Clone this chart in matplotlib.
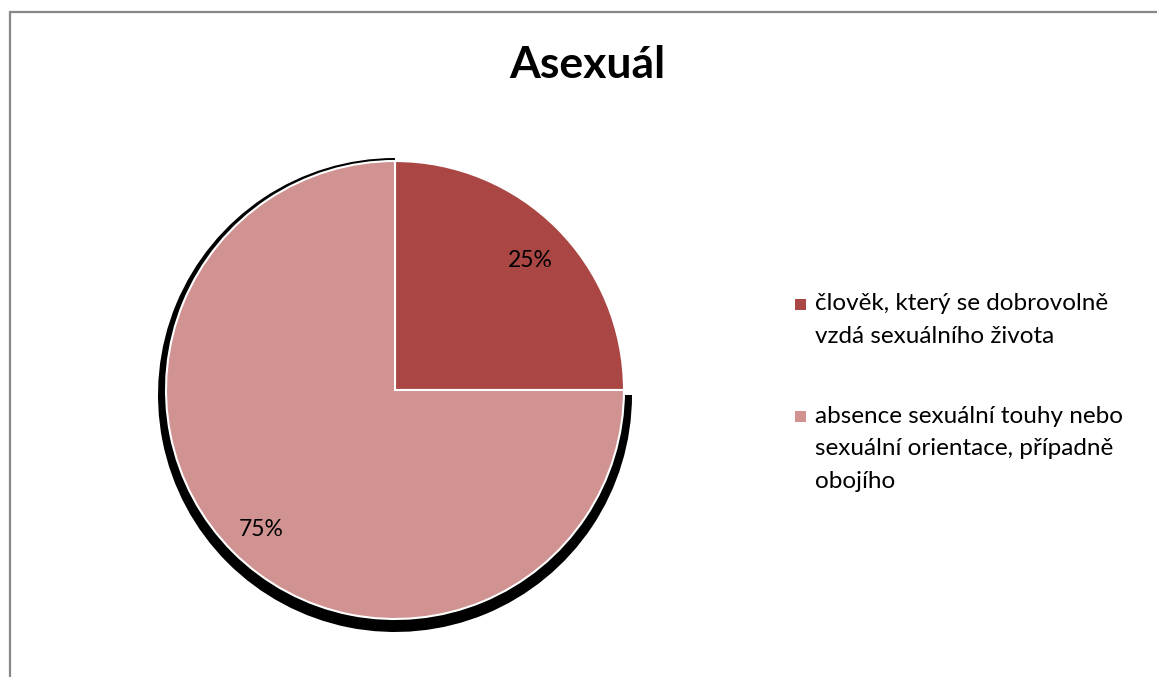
import matplotlib.pyplot as plt
from matplotlib.patches import Wedge, Rectangle

W, H = 1157, 677

title = "Asexuál"
labels = ["člověk, který se dobrovolně\nvzdá sexuálního života",
          "absence sexuální touhy nebo\nsexuální orientace, případně\nobojího"]
shares = [25, 75]
colors = ["#AA4643", "#D19392"]

fig = plt.figure(figsize=(W / 100, H / 100), dpi=100)
ax = fig.add_axes([0, 0, 1, 1])

# pie drawn in pixel-like data coords (y measured from the bottom)
wedges, _, pcts = ax.pie(shares, colors=colors, startangle=90, counterclock=False,
                         center=(395, H - 390), radius=229,
                         autopct="%d%%", pctdistance=0.83,
                         wedgeprops=dict(edgecolor="white", linewidth=1.5),
                         textprops=dict(fontsize=16.5, family="Lato"))
for t in pcts:
    x, y = t.get_position()
    t.set_position((x + 1, y - 5))

# black drop shadow behind the big slice only
big = wedges[1]
shadow = Wedge((big.center[0], big.center[1] - 5), big.r + 8, big.theta1, big.theta2,
               facecolor="black", edgecolor="none", zorder=0.5)
ax.add_patch(shadow)

ax.set_xlim(0, W)
ax.set_ylim(0, H)
ax.set_aspect("auto")
ax.axis("off")

# chart area border (only left and top visible)
ax.add_patch(Rectangle((10, -20), W + 20, H - 12 + 20, fill=False,
                       edgecolor="#878787", linewidth=1.6, zorder=0.2))

ax.text(587, H - 65, title, ha="center", va="center", fontsize=32,
        fontweight="bold", family="Lato")

# legend with squares aligned to the first line
line_h = 33
first_base = [310, 422]
for w, lab, yb in zip(wedges, labels, first_base):
    ax.add_patch(Rectangle((795, H - yb), 11, 11, facecolor=w.get_facecolor(),
                           edgecolor="none"))
    last_base = yb + line_h * lab.count("\n")
    ax.text(815, H - last_base, lab, ha="left", va="baseline", fontsize=17.5,
            family="Lato", linespacing=1.68)

fig.savefig("out.png", dpi=100)
